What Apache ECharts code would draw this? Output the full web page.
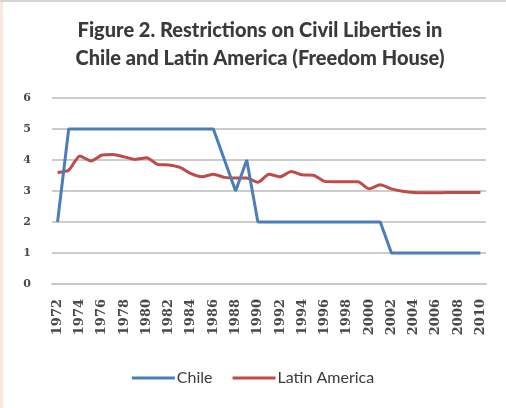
<!DOCTYPE html>
<html>
<head>
<meta charset="utf-8">
<script src="https://cdn.jsdelivr.net/npm/echarts@6/dist/echarts.min.js"></script>
<style>
  html, body { margin: 0; padding: 0; }
  body {
    width: 506px; height: 408px; overflow: hidden;
    background: linear-gradient(to right, #f9e6e0 0, #f9e6e0 3px, #ffffff 3px);
  }
  #chart { width: 506px; height: 408px; border-top: 2px solid #d4d4d4; box-sizing: border-box; }
</style>
</head>
<body>
<div id="chart"></div>
<script>
// Freedom House civil liberties scores (1 = most free, 7 = least free)
const years = [];
for (let y = 1972; y <= 2010; y++) years.push(String(y));

const chile = [
  2, 5, 5, 5, 5, 5, 5, 5, 5, 5,
  5, 5, 5, 5, 5, 4, 3, 4, 2, 2,
  2, 2, 2, 2, 2, 2, 2, 2, 2, 2,
  1, 1, 1, 1, 1, 1, 1, 1, 1
];

const latinAmerica = [
  3.60, 3.67, 4.13, 3.97, 4.16, 4.18, 4.10, 4.02, 4.07, 3.86,
  3.84, 3.76, 3.56, 3.46, 3.54, 3.44, 3.42, 3.42, 3.28, 3.54,
  3.46, 3.63, 3.52, 3.51, 3.31, 3.30, 3.30, 3.30, 3.07, 3.20,
  3.07, 2.99, 2.95, 2.94, 2.94, 2.95, 2.95, 2.95, 2.95
];

const yTicks = [0, 1, 2, 3, 4, 5, 6];

const chart = echarts.init(document.getElementById('chart'), null, { renderer: 'canvas' });

chart.setOption({
  animation: false,
  backgroundColor: 'transparent',
  title: {
    text: 'Figure 2. Restrictions on Civil Liberties in\nChile and Latin America (Freedom House)',
    left: 255,
    top: 10,
    textAlign: 'center',
    textStyle: {
      fontFamily: 'Lato',
      fontWeight: 900,
      fontSize: 20,
      lineHeight: 28,
      color: '#3a3a3a'
    }
  },
  legend: {
    bottom: 17,
    left: 'center',
    icon: 'rect',
    itemWidth: 43,
    itemHeight: 3,
    itemGap: 20,
    textStyle: { fontFamily: 'Lato', fontSize: 16, color: '#3a3a3a', padding: [0, 0, 0, -3] },
    data: ['Chile', 'Latin America']
  },
  grid: { left: 52, right: 20, top: 96, bottom: 124 },
  xAxis: {
    type: 'category',
    data: years,
    boundaryGap: true,
    axisLine: { lineStyle: { color: '#c8c8c8', width: 2 } },
    axisTick: { show: false },
    axisLabel: {
      interval: 1,
      rotate: 90,
      margin: 15,
      fontFamily: 'DejaVu Serif',
      fontWeight: 'bold',
      fontSize: 13,
      color: '#4a4a4a'
    }
  },
  yAxis: {
    type: 'value',
    min: yTicks[0],
    max: yTicks[yTicks.length - 1],
    interval: 1,
    axisLine: { show: false },
    axisTick: { show: false },
    splitLine: { lineStyle: { color: '#cccccc', width: 2 } },
    axisLabel: {
      margin: 21,
      fontFamily: 'DejaVu Serif',
      fontWeight: 'bold',
      fontSize: 11,
      color: '#4a4a4a'
    }
  },
  series: [
    {
      name: 'Chile',
      type: 'line',
      data: chile,
      z: 3,
      symbol: 'none',
      color: '#4a7ebb',
      lineStyle: { width: 3, color: '#4a7ebb' }
    },
    {
      name: 'Latin America',
      type: 'line',
      data: latinAmerica,
      z: 2,
      symbol: 'none',
      smooth: 0.2,
      color: '#be4b48',
      lineStyle: { width: 3, color: '#be4b48' }
    }
  ]
});
</script>
</body>
</html>
